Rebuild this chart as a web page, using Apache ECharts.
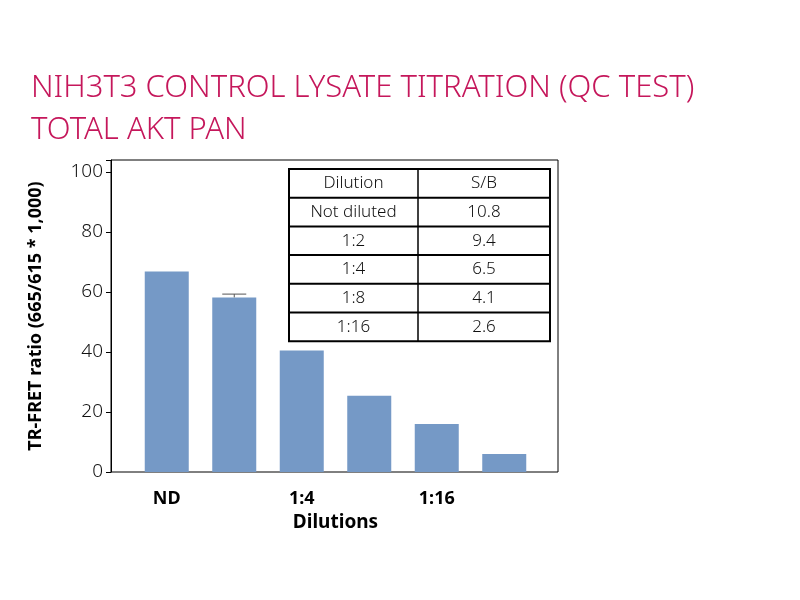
<!DOCTYPE html>
<html>
<head>
    <meta charset="utf-8" />
    <title>NIH3T3 lysate titration</title>
    <script src="https://cdn.jsdelivr.net/npm/echarts@6/dist/echarts.min.js"></script>
    <style>
        body { margin: 0; background: #fff; }
        #chart { width: 800px; height: 600px; }
    </style>
</head>
<body>
    <div id="chart"></div>
    <script>
        const categories = ['ND', '1:2', '1:4', '1:8', '1:16', 'Buffer'];
        const values = [66.8, 58.2, 40.5, 25.4, 16.0, 6.0];
        const errorTop = [null, 59.3, null, null, null, null];
        const tableDilution = ['Not diluted', '1:2', '1:4', '1:8', '1:16'];
        const tableSB = ['10.8', '9.4', '6.5', '4.1', '2.6'];

        // 表格用 graphic 画
        const tx = 289, ty = 169, rowH = 28.7, colSplit = 418, tx2 = 550;
        const graphics = [];
        const rows = [['Dilution', 'S/B']].concat(tableDilution.map((d, i) => [d, tableSB[i]]));
        graphics.push({ type: 'rect', shape: { x: tx, y: ty, width: tx2 - tx, height: rowH * rows.length },
            style: { fill: '#fff', stroke: '#000', lineWidth: 2 }, z: 10 });
        graphics.push({ type: 'line', shape: { x1: colSplit, y1: ty, x2: colSplit, y2: ty + rowH * rows.length },
            style: { stroke: '#000', lineWidth: 1.5 }, z: 11 });
        rows.forEach((r, i) => {
            if (i > 0) {
                graphics.push({ type: 'line', shape: { x1: tx, y1: ty + rowH * i, x2: tx2, y2: ty + rowH * i },
                    style: { stroke: '#000', lineWidth: 2 }, z: 11 });
            }
            [[r[0], (tx + colSplit) / 2], [r[1], (colSplit + tx2) / 2]].forEach(c => {
                graphics.push({ type: 'text', x: c[1], y: ty + rowH * i + rowH / 2, z: 12,
                    style: { text: c[0], fontSize: 17, fontFamily: 'Noto Sans', fontWeight: 300,
                        fill: '#111', align: 'center', verticalAlign: 'middle' } });
            });
        });

        var myChart = echarts.init(document.getElementById('chart'));
        option = {
            title: {
                text: 'NIH3T3 CONTROL LYSATE TITRATION (QC TEST)\nTOTAL AKT PAN',
                left: 26, top: 62,
                textStyle: { color: '#c5175b', fontSize: 31, fontWeight: 300, fontFamily: 'Noto Sans', lineHeight: 42 }
            },
            grid: [
                // 外框
                { show: true, left: 111, top: 160, right: 242, bottom: 128, borderColor: '#000', borderWidth: 1 },
                // 柱子区域
                { left: 133, top: 160, right: 262, bottom: 128 }
            ],
            graphic: graphics,
            xAxis: [
                { gridIndex: 0, type: 'value', min: 0, max: 1, show: false },
                {
                    gridIndex: 1,
                    type: 'category',
                    data: categories,
                    name: 'Dilutions',
                    nameLocation: 'middle',
                    nameGap: 36,
                    nameTextStyle: { fontSize: 19, fontWeight: 'bold', color: '#000', fontFamily: 'Noto Sans' },
                    axisLine: { show: false },
                    axisTick: { show: false },
                    axisLabel: { fontSize: 18, fontWeight: 'bold', color: '#000', margin: 18, fontFamily: 'Noto Sans' }
                }
            ],
            yAxis: [
                {
                    gridIndex: 0,
                    type: 'value',
                    min: 0, max: 104, interval: 20,
                    name: 'TR-FRET ratio (665/615 * 1,000)',
                    nameLocation: 'middle',
                    nameGap: 66,
                    nameTextStyle: { fontSize: 18, fontWeight: 'bold', color: '#000', fontFamily: 'Noto Sans' },
                    splitLine: { show: false },
                    axisLine: { show: true, lineStyle: { color: '#000' } },
                    axisTick: { show: true, length: 5 },
                    axisLabel: {
                        fontSize: 19, color: '#111', fontFamily: 'Noto Sans', fontWeight: 300,
                        formatter: v => (v % 20 === 0 ? v : '')
                    }
                },
                { gridIndex: 1, type: 'value', min: 0, max: 104, show: false }
            ],
            series: [
                {
                    type: 'bar',
                    xAxisIndex: 1, yAxisIndex: 1,
                    data: values,
                    barWidth: 44,
                    itemStyle: { color: '#7599c6' },
                    z: 2
                },
                {
                    type: 'custom',
                    xAxisIndex: 1, yAxisIndex: 1,
                    data: errorTop.map((v, i) => [i, values[i], v]),
                    renderItem: function (params, api) {
                        if (api.value(2) == null || isNaN(api.value(2))) return;
                        const base = api.coord([api.value(0), api.value(1)]);
                        const top = api.coord([api.value(0), api.value(2)]);
                        return {
                            type: 'group',
                            children: [
                                { type: 'line', shape: { x1: base[0], y1: base[1], x2: top[0], y2: top[1] },
                                  style: { stroke: '#555', lineWidth: 1 } },
                                { type: 'line', shape: { x1: top[0] - 12, y1: top[1], x2: top[0] + 12, y2: top[1] },
                                  style: { stroke: '#555', lineWidth: 1 } }
                            ]
                        };
                    },
                    z: 3
                }
            ]
        };
        myChart.setOption(option);
    </script>
</body>
</html>
